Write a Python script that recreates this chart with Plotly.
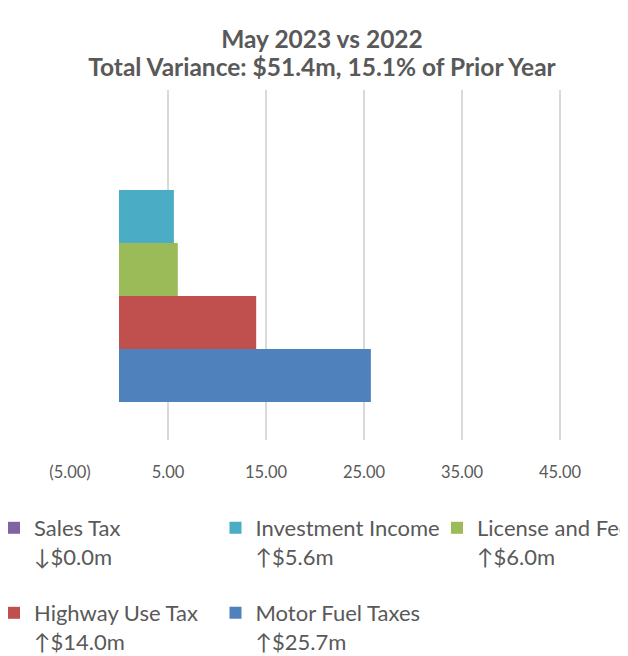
import math
import plotly.graph_objects as go

# bottom-to-top order of the grouped bars
categories = ['Motor Fuel Taxes', 'Highway Use Tax', 'License and Fee', 'Investment Income', 'Sales Tax']
variance = [25.7, 14.0, 6.0, 5.6, -0.0]
colors = ['#4F81BD', '#C0504D', '#9BBB59', '#4BACC6', '#8064A2']
tick_values = [-5, 5, 15, 25, 35, 45]
tick_labels = ['(5.00)', '5.00', '15.00', '25.00', '35.00', '45.00']
period = 'May 2023'

TEXT = '#595959'
FONT = 'Lato, Open Sans, sans-serif'

# the page body adds an 8px offset, so the figure is sized for what shows
L, T, W, H = 62, 82, 558, 350
FIG_W, FIG_H = 620, 648

# legend slot (column, row) for each category
legend_slots = {
    'Sales Tax': (0, 0),
    'Investment Income': (1, 0),
    'License and Fee': (2, 0),
    'Highway Use Tax': (0, 1),
    'Motor Fuel Taxes': (1, 1),
}


def legend_label(name, value):
    arrow = '\u2193' if math.copysign(1, value) < 0 else '\u2191'
    return f'{name}<br>{arrow}${abs(value):.1f}m'


fig = go.Figure()
legend_layout = {}
for i, (name, val, col) in enumerate(zip(categories, variance, colors)):
    key = 'legend' if i == 0 else f'legend{i + 1}'
    fig.add_trace(go.Bar(
        x=[val],
        y=[period],
        orientation='h',
        name=legend_label(name, val),
        marker=dict(color=col, line=dict(width=0)),
        legend=key,
        showlegend=True,
        hovertemplate=f'{name}: %{{x:.1f}}m<extra></extra>',
    ))
    c, r = legend_slots[name]
    px_left = -14 + c * 221.5
    px_top = 499 + r * 85
    legend_layout[key] = dict(
        x=(px_left - L) / W,
        y=(T + H - px_top) / H,
        xanchor='left',
        yanchor='top',
        valign='top',
        bgcolor='rgba(0,0,0,0)',
        font=dict(family=FONT, size=22, color=TEXT),
    )

title_text = (
    '<span style="font-size:24.5px">May 2023 vs 2022</span><br>'
    '<span style="font-size:24.5px">Total Variance: $51.4m, 15.1% of Prior Year</span>'
)

fig.update_layout(
    width=FIG_W,
    height=FIG_H,
    showlegend=True,
    barmode='group',
    bargap=0.243,
    plot_bgcolor='white',
    paper_bgcolor='white',
    font=dict(family=FONT, color=TEXT),
    margin=dict(l=L, r=FIG_W - L - W, t=T, b=FIG_H - T - H, autoexpand=False),
    title=dict(
        text=title_text,
        x=314 / FIG_W,
        xanchor='center',
        y=1 - 40 / FIG_H,
        yanchor='top',
        font=dict(family=FONT, size=21.5, color=TEXT, weight='bold'),
    ),
    xaxis=dict(
        range=[-5, -5 + W / 9.8],
        tickvals=tick_values,
        ticktext=tick_labels,
        showgrid=True,
        gridcolor='#D9D9D9',
        gridwidth=1.5,
        zeroline=False,
        showline=False,
        ticks='',
        ticklabelstandoff=20,
        tickfont=dict(family=FONT, size=16.5, color=TEXT),
    ),
    yaxis=dict(
        range=[-0.487, 0.513],
        showticklabels=False,
        showgrid=False,
        zeroline=False,
        showline=False,
        ticks='',
    ),
    **legend_layout,
)

fig.write_html('out.html')
